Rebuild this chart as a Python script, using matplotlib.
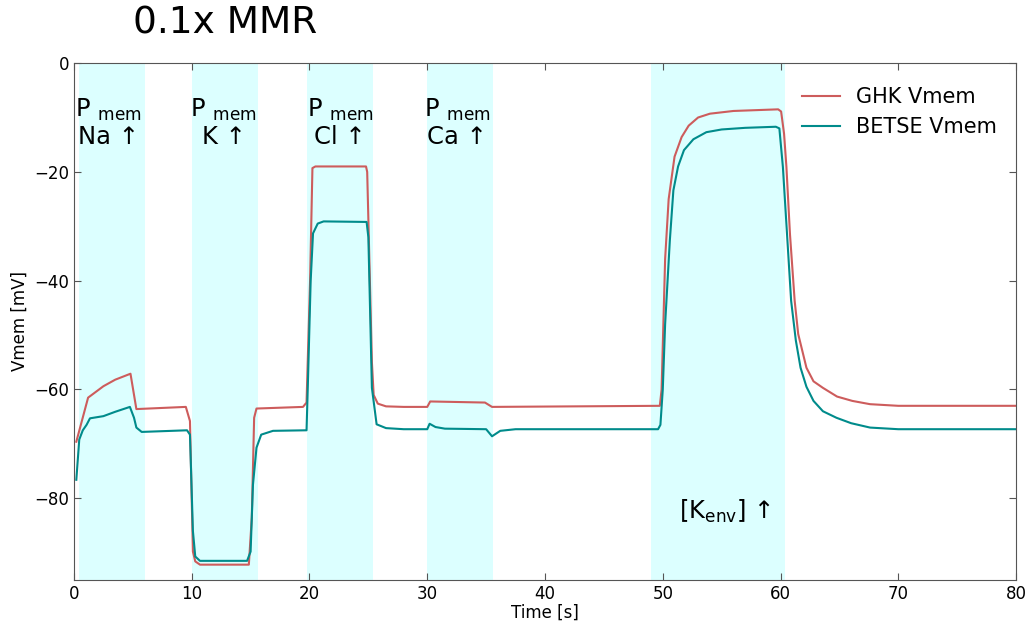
import numpy as np
import matplotlib
matplotlib.use("Agg")
import matplotlib.pyplot as plt

# --------------
# data (time in s, Vmem in mV)
# --------------
ghk_t = [0.2, 1.2, 2.5, 3.5, 4.8, 5.3, 9.5, 9.85, 10.1, 10.3, 10.7, 14.85, 15.1, 15.3,
         15.5, 19.45, 19.75, 20.05, 20.25, 20.5, 24.8, 24.9, 25.3, 25.45, 25.8, 26.5,
         28.0, 30.0, 30.25, 34.9, 35.5, 49.75, 49.9, 50.2, 50.5, 51.0, 51.6,
         52.2, 53.0, 54.0, 56.0, 59.8, 60.05, 60.3, 60.5, 60.8, 61.2, 61.5, 62.2, 62.8,
         63.6, 64.8, 66.1, 67.6, 70.0, 80.0]
ghk_v = [-69.6, -61.5, -59.4, -58.2, -57.1, -63.6, -63.2, -65.8, -89.8, -91.6, -92.2, -92.2, -83.6, -65.2,
         -63.5, -63.2, -62.4, -40.0, -19.3, -19.0, -19.0, -20.0, -55.0, -61.0, -62.6, -63.1,
         -63.2, -63.2, -62.2, -62.4, -63.2, -63.0, -60.0, -36.0, -25.0, -17.2, -13.6,
         -11.5, -10.0, -9.3, -8.8, -8.5, -8.9, -13.0, -19.1, -31.4, -43.7, -49.8, -56.0, -58.5,
         -59.7, -61.3, -62.1, -62.7, -63.0, -63.0]

betse_t = [0.2, 0.45, 0.75, 1.07, 1.36, 2.5, 3.5, 4.75, 5.1, 5.3, 5.75, 9.6, 9.85, 10.1,
           10.3, 10.7, 14.7, 15.0, 15.2, 15.5, 15.9, 16.9, 19.75, 19.85, 20.1, 20.3,
           20.7, 21.2, 24.85, 25.0, 25.3, 25.7, 26.5, 28.0, 30.0, 30.2, 30.7, 31.5,
           35.0, 35.5, 36.2, 37.5, 49.6, 49.8, 50.0, 50.2, 50.6, 50.9, 51.3, 51.8, 52.6,
           53.7, 55.0, 57.0, 59.6, 59.9, 60.2, 60.55, 60.9, 61.3, 61.7, 62.2, 62.8,
           63.6, 64.75, 66.0, 67.6, 70.0, 80.0]
betse_v = [-76.6, -69.2, -67.5, -66.5, -65.3, -64.9, -64.1, -63.2, -65.2, -67.0, -67.8, -67.5, -68.3, -86.0,
           -90.7, -91.5, -91.5, -89.8, -77.5, -70.7, -68.3, -67.6, -67.5, -60.0, -40.0, -31.3,
           -29.5, -29.1, -29.2, -32.0, -59.7, -66.4, -67.1, -67.3, -67.3, -66.3, -66.9, -67.2,
           -67.3, -68.6, -67.6, -67.3, -67.3, -66.5, -60.0, -48.0, -32.6, -23.4, -19.0, -16.0, -14.0,
           -12.7, -12.2, -11.9, -11.7, -12.0, -19.1, -31.4, -43.7, -51.0, -56.0, -59.5, -62.1,
           -64.0, -65.2, -66.2, -67.0, -67.3, -67.3]

# stimulus windows
span_start = [0.4, 10.0, 19.8, 30.0, 49.0]
span_end = [6.0, 15.6, 25.4, 35.6, 60.4]

# labels on the windows
ion_names = ["Na", "K", "Cl", "Ca"]
ion_x = [2.9, 12.7, 22.6, 32.55]

################################################################################
#   PLOT
################################################################################
fig = plt.figure(figsize=(10.33, 6.31), dpi=100)
ax = fig.add_axes([0.0716, 0.081, 0.912, 0.819])

for a, b in zip(span_start, span_end):
    ax.axvspan(a, b, color="#dcffff", lw=0, zorder=0)

ax.plot(ghk_t, ghk_v, color="indianred", lw=1.5, label="GHK Vmem")
ax.plot(betse_t, betse_v, color="darkcyan", lw=1.5, label="BETSE Vmem")

for name, x in zip(ion_names, ion_x):
    ax.text(x, -11, "P $_{\\mathrm{mem}}$\n%s \u2191" % name, ha="center", va="center",
            fontsize=17.5, linespacing=1.15)
ax.text(55.3, -82.4, "[K$_{\\mathrm{env}}$] \u2191", ha="center", va="center", fontsize=17.5)

ax.set_xlim(0, 80)
ax.set_ylim(-95, 0)
ax.set_xticks(np.arange(0, 81, 10))
ax.set_yticks([0, -20, -40, -60, -80])
ax.tick_params(direction="in", top=True, right=True, length=5, labelsize=12, color="#555555")
for s in ax.spines.values():
    s.set_color("#555555")
ax.set_xlabel("Time [s]", fontsize=12, labelpad=1)
ax.set_ylabel("Vmem [mV]", fontsize=12)

ax.legend(loc="upper right", frameon=False, fontsize=15, handlelength=1.8,
          bbox_to_anchor=(1.0, 0.99))

fig.text(0.129, 1 - 34 / 631, "0.1x MMR", fontsize=27, va="baseline")

plt.savefig("out.png", dpi=100)
